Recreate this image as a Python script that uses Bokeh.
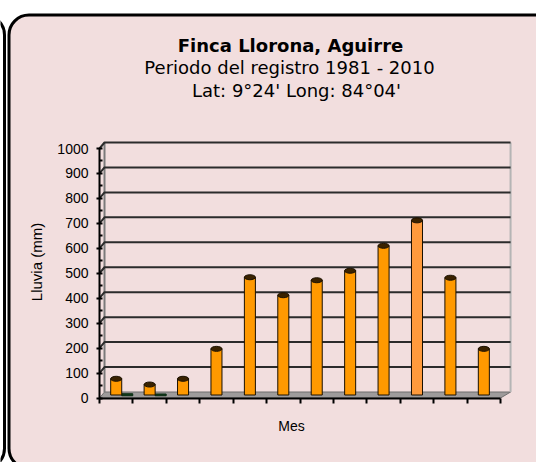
from bokeh.plotting import figure
from bokeh.models import Range1d, FixedTicker, Label, BoxAnnotation, ColumnDataSource, LinearAxis
from bokeh.embed import file_html
from bokeh.resources import INLINE

# ---------------- data ----------------
months = ["Ene", "Feb", "Mar", "Abr", "May", "Jun", "Jul", "Ago", "Set", "Oct", "Nov", "Dic"]
rain_mm = [65, 42, 65, 185, 472, 400, 460, 498, 598, 700, 470, 185]
second_series = [5, 4, 0, 0, 0, 0, 0, 0, 0, 0, 0, 0]
y_ticks = [0, 100, 200, 300, 400, 500, 600, 700, 800, 900, 1000]
title_lines = ["Finca Llorona, Aguirre", "Periodo del registro 1981 - 2010", "Lat: 9°24' Long: 84°04'"]
y_label = "Lluvia (mm)"
x_label = "Mes"

# ---------------- styles / geometry ----------------
W, H = 536, 462
PINK = "#F2DEDE"
ORANGE = "#FF9900"
bar_colors = [ORANGE] * 9 + ["#FF9A3C"] + [ORANGE] * 2
X0, PXX = 99.0, 33.42      # pixel of category 0 and pixels per category
Y0, PXY = 397.5, 0.2495    # pixel of value 0 and pixels per mm
DEPTH = 12                 # half depth of the 3-D floor (mm units)
BACK = 24                  # back-wall offset (mm units)
DX = 0.15                  # back-wall offset (category units)


def dx(px):
    return (px - X0) / PXX


def dy(py):
    return (Y0 - py) / PXY


n = len(months)
xs = [i + 0.5 for i in range(n)]

p = figure(width=W, height=H, output_backend="svg", toolbar_location=None, title=None,
           x_range=Range1d(dx(0), dx(W)), y_range=Range1d(dy(H), dy(0)),
           min_border=0)
p.background_fill_color = "white"
p.border_fill_color = "white"
p.outline_line_color = None
p.xgrid.visible = False
p.ygrid.visible = False

# neighbouring panel edge and rounded pink panel
p.add_layout(BoxAnnotation(left=dx(-40), right=dx(4), top=dy(14.5), bottom=dy(468),
                           fill_color="white", fill_alpha=1.0, line_color="black", line_alpha=1.0,
                           line_width=3, border_radius=20, level="underlay"))
p.add_layout(BoxAnnotation(left=dx(8.5), right=dx(W + 40), top=dy(14.5), bottom=dy(468),
                           fill_color=PINK, fill_alpha=1.0, line_color="black", line_alpha=1.0,
                           line_width=3, border_radius=20, level="underlay"))

# 3-D floor
p.patch([0, n, n + DX * 2, DX], [0, 0, BACK, BACK], fill_color="#8f8f8f", line_color="#6f6f6f",
        fill_alpha=0.85, line_width=1)

# back walls
p.segment(x0=[DX, n + DX * 2], y0=[BACK, BACK], x1=[DX, n + DX * 2], y1=[1000 + BACK, 1000 + BACK],
          line_color=["#7a7a7a", "#b5b5b5"], line_width=2)

# grid lines (3-D look)
gx, gy = [], []
for v in y_ticks[1:]:
    gx.append([0, DX, n + DX * 2])
    gy.append([v, v + BACK, v + BACK])
p.multi_line(gx, gy, line_color="#2b2b2b", line_width=2)

# second series (tiny)
s2x = [x + 0.33 for x, v in zip(xs, second_series) if v > 0]
s2t = [v + DEPTH for v in second_series if v > 0]
p.vbar(x=s2x, bottom=DEPTH - 3, top=s2t, width=0.33, fill_color="#0f3d1a", line_color="#0a2a10")

# cylinders
src = ColumnDataSource(dict(x=xs, month=months, rain=rain_mm,
                            top=[v + DEPTH for v in rain_mm], color=bar_colors))
p.vbar(x="x", bottom=DEPTH, top="top", width=0.33, fill_color="color", line_color="#1a1000",
       line_width=1, source=src)
p.ellipse(x="x", y="top", width=0.33, height=5, height_units="screen",
          fill_color="#3a2200", line_color="#1a1000", source=src)

# ---------------- axes (fixed inside the frame) ----------------
yax = p.yaxis[0]
yax.fixed_location = 0
yax.bounds = (0, 1000)
yax.ticker = FixedTicker(ticks=y_ticks, minor_ticks=[v + 50 for v in y_ticks[:-1]])
yax.major_label_text_font = "Liberation Sans"
yax.major_label_text_font_size = "14px"
yax.major_label_text_color = "black"
yax.major_label_standoff = 8
yax.axis_line_color = "black"
yax.axis_line_width = 2
yax.major_tick_in = 3
yax.major_tick_out = 3
yax.major_tick_line_width = 2
yax.minor_tick_in = 3
yax.minor_tick_out = 0
yax.minor_tick_line_width = 2

ylab = LinearAxis(fixed_location=0, bounds=(0, 1094), ticker=FixedTicker(ticks=[]),
                  axis_line_color=None, major_tick_line_color=None, minor_tick_line_color=None,
                  axis_label=y_label, axis_label_text_font="Liberation Sans",
                  axis_label_text_font_size="15px", axis_label_text_font_style="normal",
                  axis_label_text_color="black", axis_label_standoff=55)
p.add_layout(ylab, "left")

xax = p.xaxis[0]
xax.fixed_location = 0
xax.bounds = (0, n)
xax.ticker = FixedTicker(ticks=[], minor_ticks=list(range(n + 1)))
xax.axis_line_color = "black"
xax.axis_line_width = 2
xax.minor_tick_in = 0
xax.minor_tick_out = 5
xax.minor_tick_line_width = 2
xax.minor_tick_line_color = "black"

xlab = LinearAxis(fixed_location=0, bounds=(0, 11.5), ticker=FixedTicker(ticks=[]),
                  axis_line_color=None, major_tick_line_color=None, minor_tick_line_color=None,
                  axis_label=x_label, axis_label_text_font="Liberation Sans",
                  axis_label_text_font_size="14px", axis_label_text_font_style="normal",
                  axis_label_text_color="black", axis_label_standoff=19)
p.add_layout(xlab, "below")

# ---------------- title lines ----------------
title_pos = [(290, 45), (289, 67), (296, 89.5)]
for i, (txt, (tx, ty)) in enumerate(zip(title_lines, title_pos)):
    p.add_layout(Label(x=dx(tx), y=dy(ty), text=txt, text_align="center", text_baseline="alphabetic",
                       text_font="DejaVu Sans", text_font_size="18px",
                       text_font_style="bold" if i == 0 else "normal", text_color="black"))

open("out.html", "w").write(file_html(p, INLINE))
